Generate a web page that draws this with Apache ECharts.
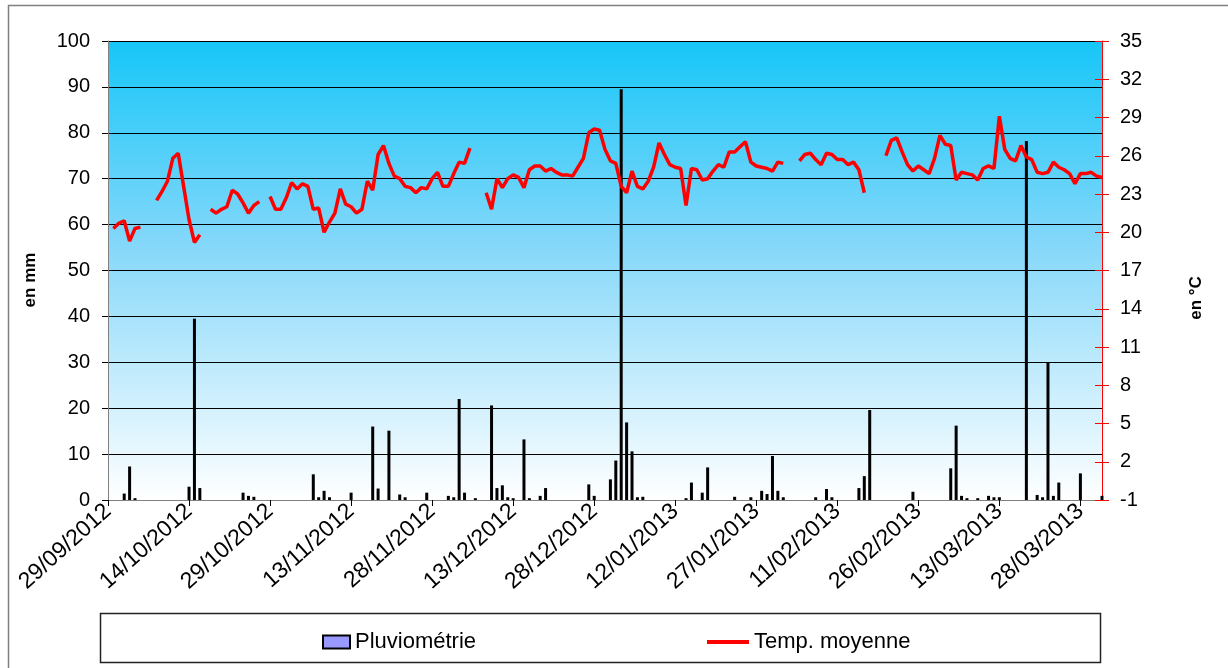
<!DOCTYPE html>
<html>
<head>
<meta charset="utf-8">
<script src="https://cdn.jsdelivr.net/npm/echarts@6/dist/echarts.min.js"></script>
<style>
html,body{margin:0;padding:0;background:#fff;}
#chart{width:1228px;height:668px;}
</style>
</head>
<body>
<div id="chart"></div>
<script>
// Daily categories from 29/09/2012 to 01/04/2013
const startDate = [2012, 8, 29];
const dayCount = 185;
const categories = [];
for (let i = 0; i < dayCount; i++) {
  const d = new Date(Date.UTC(startDate[0], startDate[1], startDate[2] + i));
  const dd = String(d.getUTCDate()).padStart(2, '0');
  const mm = String(d.getUTCMonth() + 1).padStart(2, '0');
  categories.push(dd + '/' + mm + '/' + d.getUTCFullYear());
}

// Pluviométrie (mm), one value per day
const rain = [
  0,0,0,1.4,7.3,0.4,0,0,0,0,0,0,0,0,0,
  2.9,39.5,2.6,0,0,0,0,0,0,0,1.6,0.9,0.7,0,0,
  0,0,0,0,0,0,0,0,5.6,0.6,2.0,0.6,0,0,0,
  1.6,0,0,0,16.0,2.5,0,15.1,0,1.2,0.6,0,0,0,1.6,
  0,0,0,0.9,0.6,22.0,1.6,0,0.4,0,0,20.6,2.6,3.2,0.6,
  0.4,0,13.2,0.4,0,0.9,2.6,0,0,0,0,0,0,0,3.4,
  0.9,0,0,4.5,8.6,89.5,16.9,10.6,0.6,0.7,0,0,0,0,0,
  0,0,0.4,3.8,0,1.6,7.1,0,0,0,0,0.7,0,0,0.6,
  0,2.0,1.3,9.6,2.0,0.6,0,0,0,0,0,0.6,0,2.4,0.6,
  0,0,0,0,2.6,5.2,19.6,0,0,0,0,0,0,0,1.8,
  0,0,0,0,0,0,6.9,16.2,0.9,0.4,0,0.4,0,0.9,0.6,
  0.6,0,0,0,0,78.2,0,1.1,0.6,30.0,0.9,3.8,0,0,0,
  5.8,0,0,0,0.9
];

// Temp. moyenne (°C), one value per day (null = missing)
const temp = [
  null,20.3,20.7,20.9,19.3,20.3,20.4,null,null,22.5,23.2,24.0,25.8,26.2,23.6,
  21.0,19.2,19.8,null,21.8,21.5,21.8,22.0,23.3,23.0,22.3,21.5,22.1,22.4,null,
  22.8,21.8,21.8,22.7,23.9,23.4,23.8,23.6,21.8,21.9,20.0,20.8,21.5,23.4,22.2,
  22.0,21.5,21.8,24.0,23.3,26.1,26.8,25.4,24.4,24.2,23.6,23.5,23.1,23.5,23.4,
  24.2,24.7,23.6,23.6,24.6,25.5,25.4,26.6,null,null,23.1,21.8,24.2,23.5,24.2,
  24.5,24.3,23.5,24.9,25.2,25.2,24.8,25.0,24.7,24.5,24.5,24.4,25.1,25.8,27.8,
  28.1,28.0,26.5,25.6,25.4,23.6,23.1,24.8,23.6,23.4,24.0,25.1,27.0,26.1,25.3,
  25.1,25.0,22.1,25.0,24.9,24.1,24.2,24.8,25.3,25.1,26.3,26.3,26.7,27.1,25.5,
  25.2,25.1,25.0,24.8,25.5,25.4,null,null,25.6,26.1,26.2,25.7,25.3,26.2,26.1,
  25.7,25.7,25.3,25.5,24.9,23.1,null,null,null,26.0,27.2,27.4,26.3,25.3,24.8,
  25.2,24.9,24.6,25.8,27.6,26.9,26.8,24.1,24.7,24.6,24.5,24.1,25.0,25.2,25.0,
  29.1,26.5,25.8,25.6,26.8,25.9,25.7,24.7,24.6,24.7,25.5,25.1,24.9,24.6,23.8,
  24.6,24.6,24.7,24.4,24.3
];

const leftAxis = {min: 0, max: 100, interval: 10, title: 'en mm'};
const rightAxis = {min: -1, max: 35, interval: 3, title: 'en °C'};
const seriesNames = ['Pluviométrie', 'Temp. moyenne'];

// dry days draw no bar
const rainBars = rain.map(v => (v === 0 ? null : v));

const chart = echarts.init(document.getElementById('chart'));
const font = 'Liberation Sans, Arial, sans-serif';

chart.setOption({
  animation: false,
  backgroundColor: '#ffffff',
  textStyle: {fontFamily: font},
  grid: {
    left: 108, right: 126, top: 41, bottom: 168,
    show: true, borderWidth: 0,
    backgroundColor: new echarts.graphic.LinearGradient(0, 0, 0, 1, [
      {offset: 0, color: '#16c6f8'},
      {offset: 0.45, color: '#86d8fa'},
      {offset: 1, color: '#ffffff'}
    ])
  },
  graphic: [
    {type: 'rect', z: -1, shape: {x: 8.5, y: 5.5, width: 1240, height: 700},
     style: {fill: 'none', stroke: '#808080', lineWidth: 1.5}},
    {type: 'rect', shape: {x: 100.5, y: 613.5, width: 1000, height: 49},
     style: {fill: '#fff', stroke: '#222', lineWidth: 1.5}, z: 0},
    {type: 'text', x: 30, y: 280, rotation: Math.PI / 2,
     style: {text: leftAxis.title, font: 'bold 17px ' + font, fill: '#000', align: 'center', verticalAlign: 'middle'}},
    {type: 'text', x: 1196, y: 298, rotation: Math.PI / 2,
     style: {text: rightAxis.title, font: 'bold 17px ' + font, fill: '#000', align: 'center', verticalAlign: 'middle'}}
  ],
  legend: [
    {data: [seriesNames[0]], left: 317, top: 626, itemWidth: 27, itemHeight: 13, itemGap: 3,
     icon: 'rect', textStyle: {fontSize: 22, color: '#000', fontFamily: font}, z: 5},
    {data: [seriesNames[1]], left: 702, top: 626, itemWidth: 42, itemHeight: 4, itemGap: 3,
     icon: 'rect', textStyle: {fontSize: 22, color: '#000', fontFamily: font}, z: 5}
  ],
  xAxis: {
    type: 'category',
    data: categories,
    boundaryGap: false,
    axisLine: {lineStyle: {color: '#808080', width: 1}},
    axisTick: {interval: 14, length: 6, lineStyle: {color: '#000'}},
    axisLabel: {interval: 14, rotate: 42, fontSize: 23, color: '#000', margin: 8, fontFamily: font},
    splitLine: {show: false}
  },
  yAxis: [
    {
      type: 'value', position: 'left',
      min: leftAxis.min, max: leftAxis.max, interval: leftAxis.interval,
      axisLine: {show: true, lineStyle: {color: '#808080'}},
      axisTick: {show: true, length: 6, lineStyle: {color: '#000'}},
      axisLabel: {fontSize: 20, color: '#000', margin: 18, fontFamily: font},
      splitLine: {show: true, lineStyle: {color: '#000', width: 1}}
    },
    {
      type: 'value', position: 'right',
      min: rightAxis.min, max: rightAxis.max, interval: rightAxis.interval,
      axisLine: {show: true, lineStyle: {color: '#ff0000', width: 1}},
      axisTick: {show: true, length: 7, lineStyle: {color: '#ff0000'}},
      axisLabel: {fontSize: 20, color: '#000', margin: 18, fontFamily: font},
      splitLine: {show: false}
    },
    {
      type: 'value', position: 'right',
      min: rightAxis.min, max: rightAxis.max, interval: rightAxis.interval,
      axisLine: {show: false},
      axisTick: {show: true, inside: true, length: 7, lineStyle: {color: '#ff0000'}},
      axisLabel: {show: false},
      splitLine: {show: false}
    }
  ],
  series: [
    {
      name: seriesNames[0], type: 'bar', data: rainBars, yAxisIndex: 0,
      barWidth: 3,
      itemStyle: {color: '#9999ff', borderColor: '#000', borderWidth: 1.5},
      z: 3
    },
    {
      name: seriesNames[1], type: 'line', data: temp, yAxisIndex: 1,
      showSymbol: false, symbol: 'none', connectNulls: false,
      lineStyle: {color: '#ff0000', width: 3.5},
      itemStyle: {color: '#ff0000'},
      z: 4
    }
  ]
});
</script>
</body>
</html>
